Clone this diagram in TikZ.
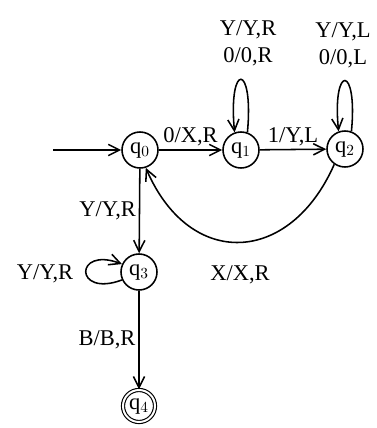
\documentclass[tikz,border=0pt]{standalone}
\usepackage{fontspec}
\setmainfont{Liberation Serif}
\usetikzlibrary{arrows.meta, positioning}

\begin{document}
\begin{tikzpicture}[
      x=0.025cm, y=-0.025cm,
      font=\fontsize{16}{17}\selectfont,
      state/.style={draw, circle, line width=1.1pt, minimum size=0.9cm, inner sep=0pt},
      accept/.style={state, double, line width=0.8pt, double distance=1.4pt, minimum size=0.8cm},
      arrow/.style={-{Straight Barb[length=2.8mm, width=2.8mm]}, line width=1.1pt},
      lbl/.style={inner sep=2pt, align=center, font=\fontsize{16}{19}\selectfont}
    ]
    \useasboundingbox (0,0) rectangle (376,428);

    \node[state] (q0) at (140,150) {q$_0$};
    \node[state] (q1) at (241,150) {q$_1$};
    \node[state] (q2) at (345,149) {q$_2$};
    \node[state] (q3) at (139,272) {q$_3$};
    \node[accept] (q4) at (139,406) {q$_4$};
    \coordinate (start) at (53,150);

    \draw[arrow] (start) -- (q0);
    \draw[arrow] (q0) -- node[lbl, above] {0/X,R} (q1);
    \draw[arrow] (q1) -- node[lbl, above] {1/Y,L} (q2);
    \draw[arrow] (q1.70) .. controls (254,62) and (228,62) .. (q1.110);
    \node[lbl] (l1) at (248,43) {Y/Y,R\\0/0,R};
    \draw[arrow] (q2.70) .. controls (358,64) and (332,64) .. (q2.110);
    \node[lbl] (l2) at (343,45) {Y/Y,L\\0/0,L};
    \draw[arrow] (q2.235) .. controls (290,265) and (190,270) .. node[lbl, pos=0.5, below=14pt] {X/X,R} (q0.288);
    \draw[arrow] (q0) -- node[lbl, left] {Y/Y,R} (q3);
    \draw[arrow] (q3.205) .. controls (74,298) and (74,246) .. (q3.155);
    \node[lbl] (l3) at (45,274) {Y/Y,R};
    \draw[arrow] (q3) -- node[lbl, left] {B/B,R} (q4);
  \end{tikzpicture}
\end{document}
